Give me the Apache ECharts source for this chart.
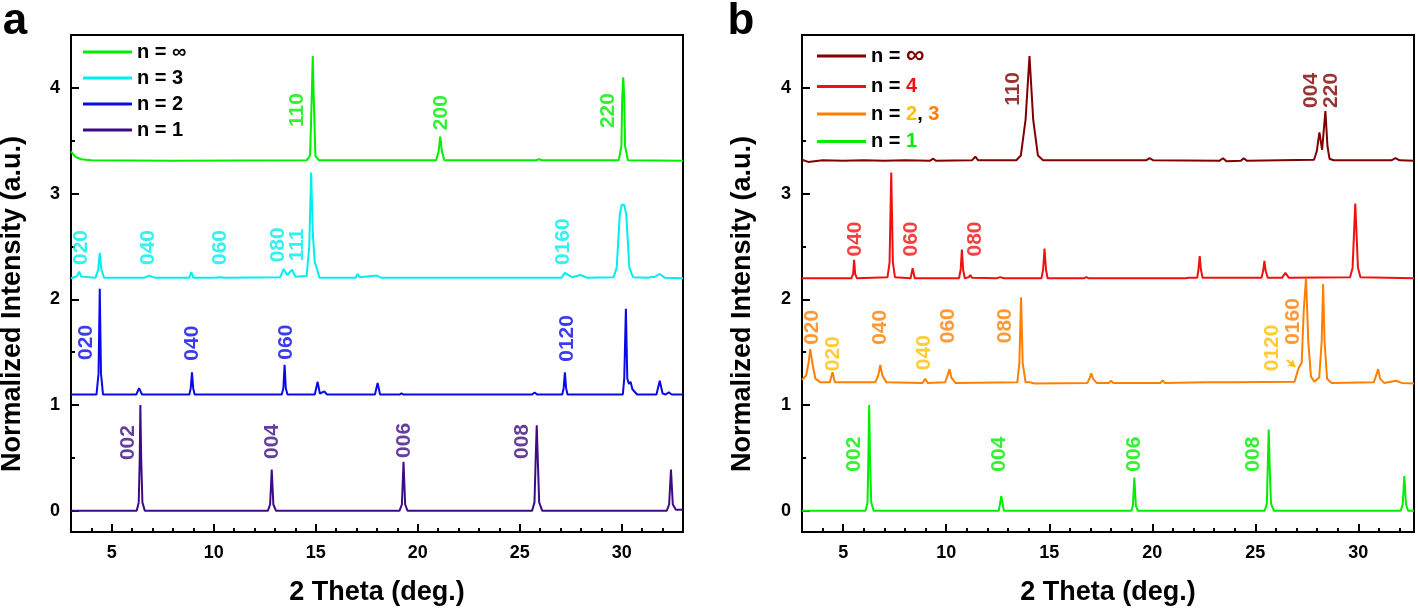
<!DOCTYPE html>
<html><head><meta charset="utf-8">
<script src="https://cdn.jsdelivr.net/npm/echarts@6/dist/echarts.min.js"></script>
<style>html,body{margin:0;padding:0;background:#fff}#c{width:1418px;height:610px}</style>
</head><body><div id="c"></div>
<script>
// ---------- tick values ----------
const majorX = [5, 10, 15, 20, 25, 30];
const minorX = [4, 6, 7, 8, 9, 11, 12, 13, 14, 16, 17, 18, 19, 21, 22, 23, 24, 26, 27, 28, 29, 31, 32];
const majorY = [0, 1, 2, 3, 4];
const minorY = [0.5, 1.5, 2.5, 3.5];

// ---------- panel a data [2theta, intensity] ----------
const aInf = [[3.0,3.40],[3.2,3.35],[3.5,3.325],[4,3.315],[8,3.31],[14.55,3.315],[14.72,3.36],[14.8,3.9],[14.85,4.30],[14.9,3.9],[14.98,3.36],[15.15,3.315],[20.9,3.315],[21.02,3.40],[21.1,3.54],[21.18,3.40],[21.3,3.315],[25.8,3.315],[25.94,3.325],[26.1,3.315],[29.85,3.315],[29.98,3.45],[30.02,3.9],[30.07,4.10],[30.12,3.9],[30.16,3.45],[30.3,3.315],[33,3.31]];
const aN3 = [[3.0,2.20],[3.3,2.22],[3.4,2.263],[3.5,2.215],[4.2,2.205],[4.33,2.28],[4.41,2.44],[4.49,2.28],[4.62,2.205],[6.6,2.205],[6.83,2.225],[7.1,2.205],[8.8,2.205],[8.9,2.257],[9.0,2.205],[10.0,2.205],[10.28,2.21],[10.6,2.205],[13.25,2.21],[13.42,2.286],[13.6,2.23],[13.84,2.28],[14.0,2.215],[14.55,2.22],[14.68,2.5],[14.77,3.20],[14.86,2.6],[14.95,2.35],[15.01,2.32],[15.18,2.205],[16.95,2.205],[17.05,2.24],[17.15,2.21],[17.2,2.215],[17.98,2.225],[18.2,2.205],[27.05,2.205],[27.21,2.25],[27.55,2.21],[27.98,2.23],[28.3,2.205],[29.6,2.21],[29.75,2.3],[29.9,2.8],[30.0,2.895],[30.12,2.895],[30.22,2.8],[30.37,2.3],[30.55,2.21],[31.3,2.205],[31.49,2.215],[31.6,2.21],[31.85,2.24],[32.1,2.205],[33,2.20]];
const aN2 = [[3,1.10],[4.25,1.10],[4.35,1.3],[4.41,2.10],[4.47,1.3],[4.57,1.10],[6.2,1.10],[6.34,1.16],[6.48,1.10],[8.8,1.10],[8.87,1.16],[8.93,1.31],[8.99,1.16],[9.06,1.10],[13.33,1.10],[13.41,1.16],[13.47,1.38],[13.53,1.16],[13.61,1.10],[14.95,1.10],[15.09,1.22],[15.2,1.11],[15.42,1.13],[15.55,1.10],[17.9,1.10],[18.03,1.21],[18.15,1.10],[19.1,1.10],[19.2,1.11],[19.3,1.10],[25.6,1.10],[25.73,1.12],[25.85,1.10],[27.08,1.10],[27.15,1.16],[27.21,1.31],[27.27,1.16],[27.34,1.10],[30.05,1.10],[30.12,1.25],[30.2,1.91],[30.27,1.25],[30.35,1.2],[30.43,1.22],[30.52,1.15],[30.59,1.15],[30.75,1.10],[31.7,1.10],[31.86,1.23],[32.0,1.11],[32.15,1.10],[32.3,1.12],[32.45,1.10],[33,1.10]];
const aN1 = [[3,0.0],[6.22,0.0],[6.32,0.08],[6.37,0.5],[6.40,1.00],[6.44,0.5],[6.5,0.08],[6.62,0.0],[12.65,0.0],[12.76,0.06],[12.84,0.39],[12.92,0.06],[13.05,0.0],[19.1,0.0],[19.22,0.06],[19.30,0.465],[19.38,0.06],[19.5,0.0],[25.6,0.0],[25.72,0.08],[25.78,0.5],[25.83,0.81],[25.88,0.5],[25.95,0.08],[26.1,0.0],[32.2,0.0],[32.32,0.06],[32.41,0.39],[32.5,0.06],[32.65,0.01],[33,0.01]];

// ---------- panel b data ----------
const bInf = [[3,3.32],[3.3,3.30],[4,3.315],[5,3.31],[6,3.315],[7,3.31],[8,3.315],[9.2,3.31],[9.37,3.33],[9.5,3.31],[11.25,3.315],[11.41,3.35],[11.55,3.315],[13.4,3.315],[13.62,3.36],[13.85,3.7],[14.04,4.30],[14.22,3.7],[14.45,3.36],[14.7,3.315],[19.7,3.315],[19.87,3.335],[20.05,3.315],[23.25,3.31],[23.43,3.335],[23.6,3.305],[24.3,3.31],[24.43,3.335],[24.6,3.31],[27.85,3.32],[27.98,3.40],[28.11,3.58],[28.24,3.415],[28.40,3.78],[28.5,3.45],[28.6,3.33],[28.8,3.315],[31.6,3.315],[31.8,3.335],[32,3.315],[32.7,3.31]];
const bN4 = [[3,2.20],[5.4,2.20],[5.48,2.24],[5.53,2.374],[5.58,2.24],[5.66,2.20],[7.15,2.21],[7.25,2.35],[7.33,3.20],[7.41,2.35],[7.51,2.21],[8.27,2.20],[8.37,2.295],[8.47,2.20],[10.62,2.20],[10.7,2.28],[10.76,2.47],[10.82,2.28],[10.9,2.20],[11.1,2.21],[11.17,2.23],[11.25,2.205],[12.45,2.20],[12.62,2.21],[12.8,2.20],[14.62,2.20],[14.7,2.28],[14.77,2.48],[14.84,2.28],[14.92,2.20],[16.7,2.20],[16.8,2.21],[16.9,2.20],[21.6,2.20],[21.68,2.21],[21.76,2.205],[22.18,2.205],[22.24,2.28],[22.30,2.41],[22.36,2.28],[22.44,2.205],[25.3,2.205],[25.38,2.27],[25.44,2.365],[25.5,2.27],[25.6,2.205],[26.3,2.205],[26.46,2.25],[26.62,2.205],[29.6,2.21],[29.72,2.3],[29.85,2.905],[29.98,2.3],[30.1,2.21],[32.7,2.20]];
const bN23 = [[3,1.24],[3.2,1.28],[3.32,1.40],[3.40,1.53],[3.5,1.40],[3.65,1.25],[3.9,1.215],[4.35,1.215],[4.48,1.31],[4.6,1.215],[6.55,1.215],[6.7,1.28],[6.80,1.38],[6.9,1.28],[7.1,1.215],[8.85,1.21],[8.98,1.25],[9.1,1.21],[9.95,1.215],[10.08,1.29],[10.16,1.34],[10.25,1.26],[10.45,1.21],[13.45,1.215],[13.55,1.4],[13.63,2.02],[13.71,1.4],[13.85,1.215],[14.08,1.215],[14.3,1.205],[16.85,1.21],[16.97,1.26],[17.04,1.30],[17.12,1.25],[17.3,1.21],[17.9,1.21],[18.0,1.23],[18.1,1.21],[20.4,1.21],[20.5,1.235],[20.6,1.21],[22.61,1.215],[23.95,1.215],[26.9,1.22],[27.1,1.35],[27.25,1.4],[27.35,1.9],[27.46,2.20],[27.57,1.6],[27.7,1.27],[27.86,1.22],[28.1,1.26],[28.22,1.6],[28.29,2.145],[28.36,1.6],[28.48,1.25],[28.7,1.21],[30.75,1.215],[30.88,1.29],[30.96,1.34],[31.05,1.25],[31.25,1.21],[31.84,1.23],[32.1,1.21],[32.7,1.205]];
const bN1 = [[3,0.0],[6.08,0.0],[6.18,0.08],[6.22,0.5],[6.26,1.00],[6.30,0.5],[6.36,0.08],[6.48,0.0],[12.55,0.0],[12.67,0.14],[12.8,0.0],[18.98,0.0],[19.06,0.05],[19.13,0.316],[19.2,0.05],[19.3,0.0],[25.45,0.0],[25.56,0.07],[25.6,0.4],[25.65,0.77],[25.7,0.4],[25.76,0.07],[25.9,0.0],[32.05,0.0],[32.15,0.06],[32.23,0.33],[32.31,0.06],[32.42,0.0],[32.7,0.0]];

// ---------- peak labels [2theta, intensity at text start, text] ----------
const aInfPeaks = [[14.08,3.63,'110'],[21.17,3.60,'200'],[29.34,3.62,'220']];
const aN3Peaks = [[3.52,2.325,'020'],[6.78,2.325,'040'],[10.32,2.325,'060'],[13.14,2.35,'080'],[14.07,2.36,'111'],[27.11,2.325,'0160']];
const aN2Peaks = [[3.73,1.427,'020'],[8.95,1.42,'040'],[13.55,1.43,'060'],[27.33,1.41,'0120']];
const aN1Peaks = [[5.80,0.48,'002'],[12.86,0.49,'004'],[19.34,0.50,'006'],[25.12,0.49,'008']];
const bInfPeaks = [[13.27,3.83,'110'],[27.70,3.81,'004'],[28.67,3.81,'220']];
const bN4Peaks = [[5.58,2.405,'040'],[8.29,2.405,'060'],[11.41,2.405,'080']];
const bN3Peaks = [[3.48,1.57,'020'],[6.80,1.57,'040'],[10.11,1.585,'060'],[12.86,1.585,'080'],[26.86,1.57,'0160']];
const bN2Peaks = [[4.53,1.32,'020'],[8.93,1.33,'040'],[25.81,1.32,'0120']];
const bN1Peaks = [[5.53,0.37,'002'],[12.57,0.37,'004'],[19.13,0.37,'006'],[24.89,0.37,'008']];
const bArrow = [[26.54,1.426],[26.94,1.363]];

const namesA = ['n = ∞', 'n = 3', 'n = 2', 'n = 1'];
const namesB = ['b: n = ∞', 'b: n = 4', 'b: n = 2, 3', 'b: n = 1'];

// ---------- styling ----------
const FONT = 'Arial, "Liberation Sans", sans-serif';
const COL = {
  aInf: '#00ee00', aN3: '#00eeee', aN2: '#0a0ae8', aN1: '#3d0c85',
  bInf: '#800000', bN4: '#f01010', bN23: '#ff8000', bYel: '#ffc000', bN1: '#00ee00'
};

const chart = echarts.init(document.getElementById('c'), null, {renderer: 'canvas'});

function gridDef(left) {
  return {left: left, top: 35, width: 612, height: 497, show: true, borderColor: '#000', borderWidth: 2,
          backgroundColor: 'transparent', outerBoundsMode: 'none', containLabel: false};
}
const tickLbl = {color: '#000', fontSize: 18, fontWeight: 'bold', fontFamily: FONT};
function xMain(gi, xmax) {
  return {type: 'value', gridIndex: gi, min: 3, max: xmax, position: 'bottom',
    axisLine: {show: true, onZero: false, lineStyle: {color: '#000', width: 2}},
    axisTick: {show: true, inside: true, length: 8, customValues: majorX, lineStyle: {color: '#000', width: 2}},
    axisLabel: Object.assign({show: true, margin: 12, customValues: majorX}, tickLbl),
    splitLine: {show: false},
    name: '2 Theta (deg.)', nameLocation: 'middle', nameGap: 47,
    nameTextStyle: {color: '#000', fontSize: 27, fontWeight: 'bold', fontFamily: FONT}};
}
function xMinor(gi, xmax) {
  return {type: 'value', gridIndex: gi, min: 3, max: xmax, position: 'bottom',
    axisLine: {show: false, onZero: false},
    axisTick: {show: true, inside: true, length: 4, customValues: minorX, lineStyle: {color: '#000', width: 2}},
    axisLabel: {show: false}, splitLine: {show: false}};
}
function yMain(gi) {
  return {type: 'value', gridIndex: gi, min: -0.2, max: 4.5, position: 'left',
    axisLine: {show: true, onZero: false, lineStyle: {color: '#000', width: 2}},
    axisTick: {show: true, inside: true, length: 8, customValues: majorY, lineStyle: {color: '#000', width: 2}},
    axisLabel: Object.assign({show: true, margin: 11, customValues: majorY}, tickLbl),
    splitLine: {show: false}};
}
function yMinor(gi) {
  return {type: 'value', gridIndex: gi, min: -0.2, max: 4.5, position: 'left',
    axisLine: {show: false, onZero: false},
    axisTick: {show: true, inside: true, length: 4, customValues: minorY, lineStyle: {color: '#000', width: 2}},
    axisLabel: {show: false}, splitLine: {show: false}};
}
function lineSeries(name, data, color, ax) {
  return {type: 'line', name: name, data: data, xAxisIndex: ax, yAxisIndex: ax,
    showSymbol: false, symbol: 'none', silent: true, animation: false, z: 2,
    lineStyle: {width: 2, color: color}, itemStyle: {color: color}};
}
function labelSeries(id, peaks, color, ax, extra) {
  const s = {type: 'scatter', name: id, xAxisIndex: ax, yAxisIndex: ax, silent: true, animation: false, z: 5,
    data: peaks.map(p => ({value: [p[0], p[1]], name: p[2]})),
    symbol: 'circle', symbolSize: 1, itemStyle: {color: 'rgba(0,0,0,0)'},
    label: {show: true, formatter: p => p.name, position: 'inside', rotate: 90, align: 'left', verticalAlign: 'middle',
      color: color, fontSize: 21, fontWeight: 'bold', fontFamily: FONT}};
  return Object.assign(s, extra || {});
}

const legendText = {color: '#000', fontSize: 20, fontWeight: 'bold', fontFamily: FONT, lineHeight: 20};
const bLegendMap = {
  'b: n = ∞': '{k|n = }{inf|∞}',
  'b: n = 4': '{k|n = }{r|4}',
  'b: n = 2, 3': '{k|n = }{y|2}{k|, }{o|3}',
  'b: n = 1': '{k|n = }{g|1}'
};
const rb = (c, fs) => ({color: c, fontSize: fs || 20, fontWeight: 'bold', fontFamily: FONT, lineHeight: 20});

const option = {
  backgroundColor: '#fff',
  animation: false,
  grid: [gridDef(71), gridDef(802)],
  xAxis: [xMain(0, 33), xMinor(0, 33), xMain(1, 32.7), xMinor(1, 32.7)],
  yAxis: [yMain(0), yMinor(0), yMain(1), yMinor(1)],
  legend: [
    {orient: 'vertical', left: 83, top: 42, padding: 0, itemWidth: 49, itemHeight: 3, itemGap: 6, icon: 'rect',
     selectedMode: false, data: namesA, textStyle: legendText},
    {orient: 'vertical', left: 817, top: 43, padding: 0, itemWidth: 49, itemHeight: 3, itemGap: 7.5, icon: 'rect',
     selectedMode: false, data: namesB, formatter: n => bLegendMap[n],
     textStyle: Object.assign({}, legendText, {rich: {
       k: rb('#000'), inf: rb(COL.bInf, 26), r: rb(COL.bN4), y: rb(COL.bYel), o: rb(COL.bN23), g: rb(COL.bN1)}})}
  ],
  graphic: [
    {type: 'text', x: 15, y: 22, style: {text: 'a', font: 'bold 44px ' + FONT, fill: '#000',
      align: 'center', verticalAlign: 'middle', textAlign: 'center', textVerticalAlign: 'middle'}},
    {type: 'text', x: 741, y: 22, style: {text: 'b', font: 'bold 44px ' + FONT, fill: '#000',
      align: 'center', verticalAlign: 'middle', textAlign: 'center', textVerticalAlign: 'middle'}},
    {type: 'text', x: 13, y: 304, rotation: Math.PI / 2, style: {text: 'Normalized Intensity (a.u.)', font: 'bold 27px ' + FONT, fill: '#000',
      align: 'center', verticalAlign: 'middle', textAlign: 'center', textVerticalAlign: 'middle'}},
    {type: 'text', x: 743, y: 304, rotation: Math.PI / 2, style: {text: 'Normalized Intensity (a.u.)', font: 'bold 27px ' + FONT, fill: '#000',
      align: 'center', verticalAlign: 'middle', textAlign: 'center', textVerticalAlign: 'middle'}}
  ],
  series: [
    lineSeries(namesA[0], aInf, COL.aInf, 0),
    lineSeries(namesA[1], aN3, COL.aN3, 0),
    lineSeries(namesA[2], aN2, COL.aN2, 0),
    lineSeries(namesA[3], aN1, COL.aN1, 0),
    lineSeries(namesB[0], bInf, COL.bInf, 2),
    lineSeries(namesB[1], bN4, COL.bN4, 2),
    lineSeries(namesB[2], bN23, COL.bN23, 2),
    lineSeries(namesB[3], bN1, COL.bN1, 2),
    labelSeries('lbl-aInf', aInfPeaks, COL.aInf, 0),
    labelSeries('lbl-aN3', aN3Peaks, COL.aN3, 0),
    labelSeries('lbl-aN2', aN2Peaks, COL.aN2, 0),
    labelSeries('lbl-aN1', aN1Peaks, COL.aN1, 0),
    labelSeries('lbl-bInf', bInfPeaks, COL.bInf, 2),
    labelSeries('lbl-bN4', bN4Peaks, COL.bN4, 2),
    labelSeries('lbl-bN3', bN3Peaks, COL.bN23, 2),
    labelSeries('lbl-bN2', bN2Peaks, COL.bYel, 2, {markLine: {silent: true, animation: false,
      symbol: ['none', 'arrow'], symbolSize: 7, label: {show: false},
      lineStyle: {color: COL.bYel, width: 2, type: 'solid'},
      data: [[{coord: bArrow[0]}, {coord: bArrow[1]}]]}}),
    labelSeries('lbl-bN1', bN1Peaks, COL.bN1, 2)
  ]
};
chart.setOption(option);
</script>
</body></html>
